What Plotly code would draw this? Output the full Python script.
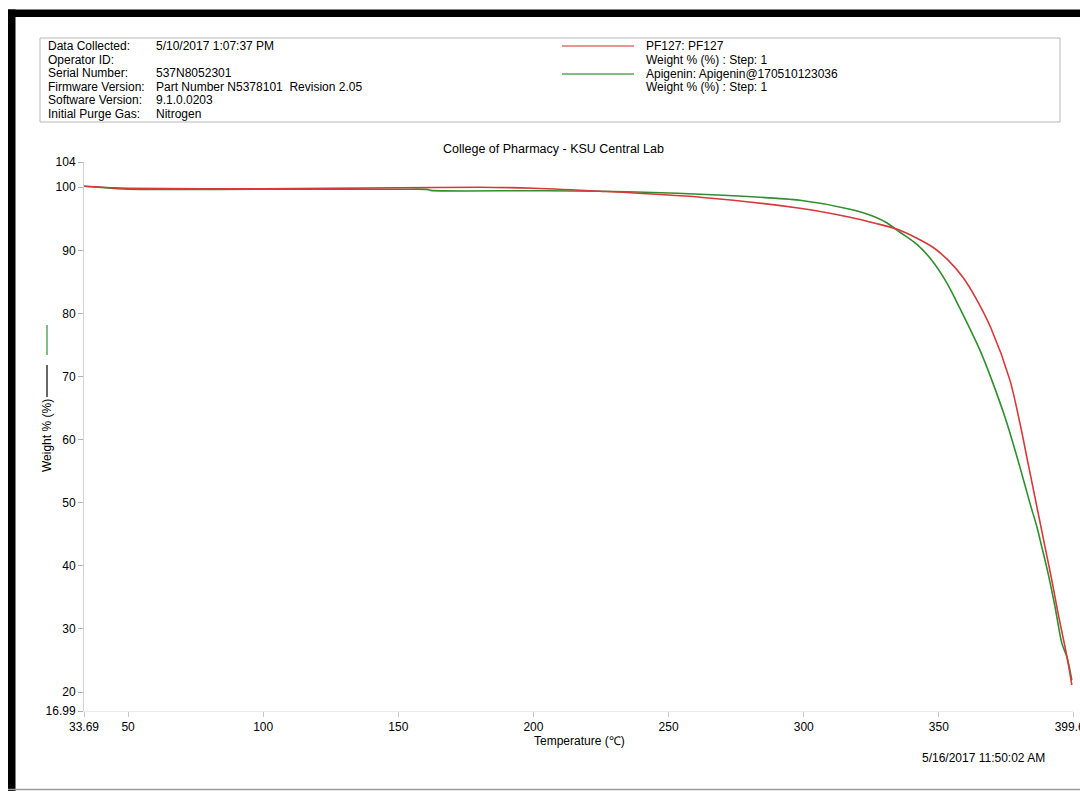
import plotly.graph_objects as go

# ---------------- data ----------------
pf127_temp = [33.69, 45, 50, 100, 150, 180, 200, 224.6, 261.6, 298.6, 317.1, 326.4, 335.6,
              347.8, 353.5, 358.9, 364.0, 369.3, 376.3, 380.0, 383.0, 386.3, 389.3, 391.8,
              394.1, 396.7, 398.5, 399.2]
pf127_weight = [100.16, 99.9, 99.84, 99.76, 99.92, 100.0, 99.84, 99.37, 98.42, 96.67, 95.25,
                94.3, 93.19, 90.49, 88.4, 85.74, 82.2, 77.66, 69.43, 62.61, 56.28, 49.31,
                42.97, 37.74, 32.51, 27.12, 23.01, 21.11]

api_temp = [33.69, 45, 50, 100, 150, 160.6, 162.0, 200, 224.6, 261.6, 298.6, 317.1, 326.4,
            331.0, 335.6, 342.0, 347.8, 353.0, 357.8, 365.2, 369.6, 375.2, 380.0, 383.7,
            386.3, 388.1, 390.4, 393.0, 395.5, 397.4, 399.2]
api_weight = [100.16, 99.8, 99.68, 99.68, 99.68, 99.66, 99.5, 99.45, 99.37, 98.89, 97.94,
              96.51, 95.3, 94.3, 92.87, 90.9, 88.2, 84.8, 80.8, 74.18, 69.43, 62.61, 55.64,
              49.94, 46.14, 42.97, 38.85, 33.47, 27.75, 25.54, 21.9]

x_tickvals = [33.69, 50, 100, 150, 200, 250, 300, 350, 399.64]
x_ticktext = ["33.69", "50", "100", "150", "200", "250", "300", "350", "399.64"]
y_tickvals = [16.99, 20, 30, 40, 50, 60, 70, 80, 90, 100, 104]
y_ticktext = ["16.99", "20", "30", "40", "50", "60", "70", "80", "90", "100", "104"]

info_labels = ["Data Collected:", "Operator ID:", "Serial Number:", "Firmware Version:",
               "Software Version:", "Initial Purge Gas:"]
info_values = ["5/10/2017 1:07:37 PM", "", "537N8052301",
               "Part Number N5378101  Revision 2.05", "9.1.0.0203", "Nitrogen"]
legend_lines = ["PF127: PF127", "Weight % (%) : Step: 1",
                "Apigenin: Apigenin@170510123036", "Weight % (%) : Step: 1"]

RED = "#d8383a"
GREEN = "#2f8f2f"
FONT = "Liberation Sans, Arial, Helvetica, sans-serif"

# ---------------- geometry helpers (page pixel -> paper) ----------------
W, H = 1080, 791
PLOT_L, PLOT_R, PLOT_T, PLOT_B = 84, 1073, 162, 711  # page pixels of plot area
L, T, R, B = PLOT_L, PLOT_T, W - PLOT_R, H - PLOT_B
PW, PH = PLOT_R - PLOT_L, PLOT_B - PLOT_T


def px(x):
    return (x - PLOT_L) / PW


def py(y):
    return (PLOT_B - y) / PH


fig = go.Figure()
fig.add_trace(go.Scatter(x=api_temp, y=api_weight, mode="lines",
                         line=dict(color=GREEN, width=1.6, shape="spline", smoothing=0.8),
                         name="Apigenin", showlegend=False))
fig.add_trace(go.Scatter(x=pf127_temp, y=pf127_weight, mode="lines",
                         line=dict(color=RED, width=1.6, shape="spline", smoothing=0.8),
                         name="PF127", showlegend=False))

annotations = []


def add_text(text, x, y, xanchor="left", size=12, angle=0, yanchor="middle"):
    annotations.append(dict(text=text, x=px(x), y=py(y), xref="paper", yref="paper",
                            xanchor=xanchor, yanchor=yanchor, showarrow=False,
                            textangle=angle, font=dict(family=FONT, size=size, color="black")))


rows_y = [46, 60, 73, 87, 100, 114]
for lab, val, yy in zip(info_labels, info_values, rows_y):
    add_text(lab, 46, yy)
    if val:
        add_text(val, 154, yy)

leg_y = [46, 60, 74, 87]
for txt, yy in zip(legend_lines, leg_y):
    add_text(txt, 644, yy)

add_text("College of Pharmacy - KSU Central Lab", 553, 149, xanchor="center", size=12.5)
add_text("Temperature (℃)", 579, 741, xanchor="center")
add_text("5/16/2017 11:50:02 AM", 983, 758, xanchor="center")
add_text("Weight % (%)", 47, 436, xanchor="center", angle=-90)

shapes = []


def rect(x0, y0, x1, y1, fill=None, line_color=None, lw=1):
    shapes.append(dict(type="rect", xref="paper", yref="paper",
                       x0=px(x0), x1=px(x1), y0=py(y1), y1=py(y0),
                       fillcolor=fill if fill else "rgba(0,0,0,0)",
                       line=dict(color=line_color if line_color else "rgba(0,0,0,0)", width=lw)))


def line(x0, y0, x1, y1, color, lw=1.5):
    shapes.append(dict(type="line", xref="paper", yref="paper",
                       x0=px(x0), x1=px(x1), y0=py(y0), y1=py(y1),
                       line=dict(color=color, width=lw)))


# black frame
rect(8, 9.5, 1085, 17, fill="black")
rect(8, 9.5, 15.5, 795, fill="black")
line(8, 789.5, 1085, 789.5, "#9a9a9a", 1.5)
# header box
rect(40, 38, 1060, 122, line_color="#b8b8b8", lw=1)
# header legend swatches
line(562, 46, 634, 46, "#e07070", 1.5)
line(562, 74, 634, 74, "#5aa55a", 1.5)
# y-axis title swatches
line(47, 325, 47, 355, GREEN, 1.2)
line(47, 365, 47, 397, "black", 1.2)

fig.update_layout(
    width=W, height=H,
    margin=dict(l=L, r=R, t=T, b=B, pad=0, autoexpand=False),
    paper_bgcolor="white", plot_bgcolor="white",
    font=dict(family=FONT, size=12, color="black"),
    annotations=annotations, shapes=shapes,
    showlegend=False,
    xaxis=dict(range=[33.69, 399.64], tickvals=x_tickvals, ticktext=x_ticktext,
               showgrid=False, zeroline=False, showline=True, linecolor="#ececec",
               linewidth=1, ticks="outside", ticklen=5, tickcolor="#c8c8c8",
               ticklabeloverflow="allow", automargin=False,
               tickfont=dict(family=FONT, size=12, color="black")),
    yaxis=dict(range=[16.99, 104], tickvals=y_tickvals, ticktext=y_ticktext,
               showgrid=False, zeroline=False, showline=True, linecolor="#d4d4d4",
               linewidth=1, ticks="outside", ticklen=5, tickcolor="#b0b0b0",
               automargin=False,
               tickfont=dict(family=FONT, size=12, color="black")),
)

fig.write_html(
    "out.html",
    config={"displayModeBar": False},
    post_script=("document.body.style.margin='0';"
                 "document.body.style.overflow='hidden';"
                 "document.documentElement.style.overflow='hidden';"),
)
